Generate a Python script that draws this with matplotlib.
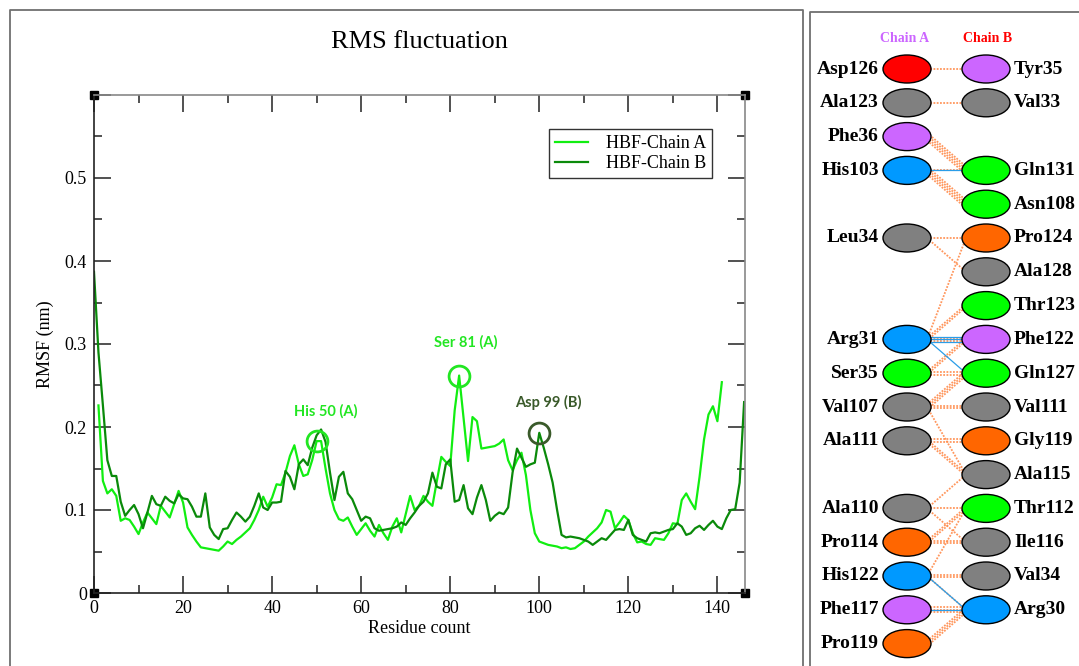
import matplotlib
matplotlib.use("Agg")
import matplotlib.pyplot as plt
from matplotlib.patches import Ellipse
from matplotlib.lines import Line2D
import numpy as np

# ---------------- data ----------------
chain_a_res = list(range(1, 142))
chain_a_rmsf = [
    0.226, 0.135, 0.120, 0.125, 0.117, 0.087, 0.090, 0.088, 0.080, 0.071,
    0.085, 0.097, 0.090, 0.083, 0.105, 0.098, 0.091, 0.107, 0.123, 0.109,
    0.079, 0.070, 0.062, 0.055, 0.054, 0.053, 0.052, 0.051, 0.056, 0.062,
    0.059, 0.064, 0.068, 0.073, 0.078, 0.088, 0.100, 0.116, 0.104, 0.115,
    0.131, 0.130, 0.145, 0.165, 0.178, 0.155, 0.141, 0.143, 0.160, 0.183,
    0.183, 0.150, 0.120, 0.100, 0.089, 0.087, 0.091, 0.080, 0.070, 0.077,
    0.084, 0.075, 0.068, 0.082, 0.072, 0.064, 0.080, 0.090, 0.073, 0.095,
    0.117, 0.100, 0.105, 0.117, 0.110, 0.105, 0.135, 0.164, 0.158, 0.153,
    0.220, 0.262, 0.210, 0.159, 0.212, 0.207, 0.174, 0.175, 0.176, 0.177,
    0.180, 0.185, 0.160, 0.148, 0.160, 0.169, 0.142, 0.100, 0.072, 0.062,
    0.060, 0.058, 0.057, 0.056, 0.054, 0.055, 0.053, 0.054, 0.058, 0.062,
    0.068, 0.073, 0.078, 0.085, 0.100, 0.098, 0.078, 0.085, 0.093, 0.088,
    0.072, 0.061, 0.062, 0.059, 0.058, 0.066, 0.065, 0.064, 0.072, 0.084,
    0.083, 0.112, 0.120, 0.110, 0.101, 0.140, 0.185, 0.215, 0.225, 0.207,
    0.254,
]
chain_b_res = list(range(0, 147))
chain_b_rmsf = [
    0.387, 0.290, 0.226, 0.160, 0.141, 0.141, 0.110, 0.093, 0.100, 0.106,
    0.095, 0.078, 0.097, 0.117, 0.107, 0.105, 0.116, 0.111, 0.108, 0.119,
    0.114, 0.113, 0.104, 0.092, 0.092, 0.120, 0.079, 0.070, 0.065, 0.077,
    0.078, 0.088, 0.097, 0.092, 0.086, 0.092, 0.105, 0.120, 0.103, 0.100,
    0.109, 0.109, 0.110, 0.147, 0.140, 0.125, 0.155, 0.161, 0.154, 0.175,
    0.190, 0.197, 0.182, 0.145, 0.112, 0.140, 0.146, 0.120, 0.113, 0.100,
    0.087, 0.092, 0.090, 0.078, 0.075, 0.076, 0.077, 0.078, 0.080, 0.085,
    0.082, 0.090, 0.097, 0.105, 0.110, 0.120, 0.145, 0.128, 0.126, 0.155,
    0.161, 0.110, 0.112, 0.130, 0.102, 0.095, 0.115, 0.130, 0.112, 0.087,
    0.093, 0.097, 0.095, 0.103, 0.145, 0.174, 0.163, 0.152, 0.155, 0.157,
    0.193, 0.175, 0.155, 0.133, 0.100, 0.070, 0.067, 0.068, 0.067, 0.066,
    0.064, 0.062, 0.058, 0.062, 0.066, 0.064, 0.070, 0.076, 0.077, 0.076,
    0.088, 0.070, 0.066, 0.064, 0.062, 0.072, 0.073, 0.072, 0.074, 0.076,
    0.077, 0.084, 0.080, 0.070, 0.072, 0.078, 0.081, 0.076, 0.082, 0.087,
    0.080, 0.077, 0.090, 0.100, 0.101, 0.133, 0.230,
]
series_labels = ["HBF-Chain A", "HBF-Chain B"]

highlight_labels = ["His 50 (A)", "Ser 81 (A)", "Asp 99 (B)"]
highlight_res = [50, 82, 100]
highlight_val = [0.183, 0.262, 0.193]

x_ticks = [0, 20, 40, 60, 80, 100, 120, 140]
y_ticks = [0, 0.1, 0.2, 0.3, 0.4, 0.5, 0.6]
y_ticklabels = ["0", "0.1", "0.2", "0.3", "0.4", "0.5", ""]

# interaction diagram
chain_a_nodes = ["Asp126", "Ala123", "Phe36", "His103", "Leu34", "Arg31", "Ser35",
                 "Val107", "Ala111", "Ala110", "Pro114", "His122", "Phe117", "Pro119"]
chain_a_rows = [0, 1, 2, 3, 5, 8, 9, 10, 11, 13, 14, 15, 16, 17]
chain_a_colors = ["red", "gray", "purple", "blue", "gray", "blue", "green",
                  "gray", "gray", "gray", "orange", "blue", "purple", "orange"]
chain_b_nodes = ["Tyr35", "Val33", "Gln131", "Asn108", "Pro124", "Ala128", "Thr123",
                 "Phe122", "Gln127", "Val111", "Gly119", "Ala115", "Thr112", "Ile116",
                 "Val34", "Arg30"]
chain_b_rows = [0, 1, 3, 4, 5, 6, 7, 8, 9, 10, 11, 12, 13, 14, 15, 16]
chain_b_colors = ["purple", "gray", "green", "green", "orange", "gray", "green",
                  "purple", "green", "gray", "orange", "gray", "green", "gray",
                  "gray", "blue"]
# (chain A row, chain B row, number of non-bonded contacts, number of H-bonds)
contacts = [
    (0, 0, 1, 0), (1, 1, 1, 0), (2, 3, 4, 0), (3, 3, 1, 1), (3, 4, 4, 0),
    (5, 5, 1, 0), (5, 6, 1, 0), (8, 5, 1, 0), (8, 7, 2, 0), (8, 8, 2, 3),
    (8, 9, 0, 1), (9, 9, 2, 0), (9, 8, 2, 0), (10, 9, 3, 0), (10, 10, 2, 0),
    (10, 12, 1, 0), (11, 11, 2, 0), (11, 12, 2, 0), (13, 12, 1, 0),
    (13, 13, 1, 0), (13, 14, 1, 0), (14, 14, 2, 0), (14, 13, 2, 0),
    (15, 13, 1, 0), (15, 15, 2, 0), (15, 16, 1, 1), (16, 16, 3, 1),
    (17, 16, 3, 0),
]

palette = {"red": "#FF0000", "gray": "#808080", "purple": "#CC66FF",
           "blue": "#0099FF", "green": "#00FF00", "orange": "#FF6600"}

# ---------------- figure ----------------
W, H = 1079, 666
fig = plt.figure(figsize=(W / 100, H / 100), dpi=100)
serif = ["Liberation Serif", "DejaVu Serif"]

# panel frames
frame_kw = dict(transform=fig.transFigure, color="#707070", lw=1.3)
def fx(p): return p / W
def fy(p): return 1 - p / H
fig.add_artist(Line2D([fx(10), fx(10), fx(803), fx(803)], [fy(666), fy(10), fy(10), fy(666)], **frame_kw))
fig.add_artist(Line2D([fx(810), fx(810), fx(1079)], [fy(666), fy(12), fy(12)], **frame_kw))

ax = fig.add_axes([fx(94), fy(593), (745 - 94) / W, (593 - 95) / H])
ax.plot(chain_a_res, chain_a_rmsf, color="#11EE11", lw=1.6, label=series_labels[0])
ax.plot(chain_b_res, chain_b_rmsf, color="#0A8A0A", lw=1.6, label=series_labels[1])
ax.set_xlim(0, 146.2)
ax.set_ylim(0, 0.6)
ax.set_xticks(x_ticks)
ax.set_xticks(np.arange(10, 146, 20), minor=True)
ax.set_yticks(y_ticks)
ax.set_yticklabels(y_ticklabels)
ax.set_yticks(np.arange(0.05, 0.6, 0.1), minor=True)
ax.tick_params(which="both", direction="in", top=True, right=True, width=1.1, colors="#222222")
ax.tick_params(which="major", length=12, labelsize=13, pad=5)
ax.tick_params(which="minor", length=6)
for lab in ax.get_xticklabels() + ax.get_yticklabels():
    lab.set_family(serif)
    lab.set_color("black")
for s in ["top", "right"]:
    ax.spines[s].set_color("#888888")
for s in ["left", "bottom"]:
    ax.spines[s].set_color("#222222")
for s in ax.spines.values():
    s.set_linewidth(1.2)

ax.set_title("RMS fluctuation", family=serif, fontsize=19, pad=34)
ax.set_xlabel("Residue count", family=serif, fontsize=13, labelpad=2)
ax.set_ylabel("RMSF (nm)", family=serif, fontsize=13, labelpad=8)

# corner squares
for cx, cy in [(0, 0), (0, 1), (1, 0), (1, 1)]:
    ax.plot([cx], [cy], marker="s", ms=6, color="black", transform=ax.transAxes, clip_on=False)

leg = ax.legend(loc="upper left", bbox_to_anchor=(0.699, 0.932), prop={"family": serif, "size": 13},
                frameon=True, fancybox=False, edgecolor="black", handlelength=1.8,
                handletextpad=1.0, borderpad=0.35, labelspacing=0.15, borderaxespad=0)
leg.get_frame().set_linewidth(1.0)

hl_colors = ["#22E622", "#22E622", "#3A5A2A"]
hl_text_off = [(2, 0.027), (1.5, 0.031), (2, 0.028)]
for lab, rx, ry, c, off in zip(highlight_labels, highlight_res, highlight_val, hl_colors, hl_text_off):
    ax.plot([rx], [ry], marker="o", ms=15, mfc="none", mec=c, mew=2.0)
    ax.text(rx + off[0], ry + off[1], lab, color=c, fontsize=10.5, fontweight="bold",
            family=["Lato", "DejaVu Sans"], ha="center", va="bottom")

# ---------------- interaction diagram ----------------
ax2 = fig.add_axes([fx(812), 0, (W - 812) / W, 1])
ax2.set_xlim(812, W)
ax2.set_ylim(H, 0)
ax2.axis("off")

xa, xb = 907, 986
def row_y(r): return 69 + 33.8 * r

for ra, rb, n_nb, n_hb in contacts:
    ya, yb = row_y(ra), row_y(rb)
    for k in range(n_nb):
        d = (k - (n_nb - 1) / 2) * 2.6
        ax2.plot([xa + 20, xb - 20], [ya + d, yb + d], color="#FF8C4C", lw=1.3,
                 linestyle=(0, (1.0, 0.8)), zorder=1, alpha=0.9)
    for k in range(n_hb):
        d = (k - (n_hb - 1) / 2) * 2.5
        ax2.plot([xa + 20, xb - 20], [ya + d, yb + d], color="#2A9DE8", lw=0.9, zorder=2)

for name, r, c in zip(chain_a_nodes, chain_a_rows, chain_a_colors):
    y = row_y(r)
    ax2.add_patch(Ellipse((xa, y), 48, 28, facecolor=palette[c], edgecolor="black", lw=1.0, zorder=3))
    ax2.text(xa - 28, y, name, ha="right", va="center", family=serif, fontsize=14,
             fontweight="bold", zorder=4)
for name, r, c in zip(chain_b_nodes, chain_b_rows, chain_b_colors):
    y = row_y(r)
    ax2.add_patch(Ellipse((xb, y), 48, 28, facecolor=palette[c], edgecolor="black", lw=1.0, zorder=3))
    ax2.text(xb + 28, y, name, ha="left", va="center", family=serif, fontsize=14,
             fontweight="bold", zorder=4)

ax2.text(xa - 2, 38, "Chain A", color="#CC66FF", ha="center", va="center", family=serif,
         fontsize=10, fontweight="bold")
ax2.text(xb + 2, 38, "Chain B", color="#FF0000", ha="center", va="center", family=serif,
         fontsize=10, fontweight="bold")

fig.savefig("out.png", dpi=100)
